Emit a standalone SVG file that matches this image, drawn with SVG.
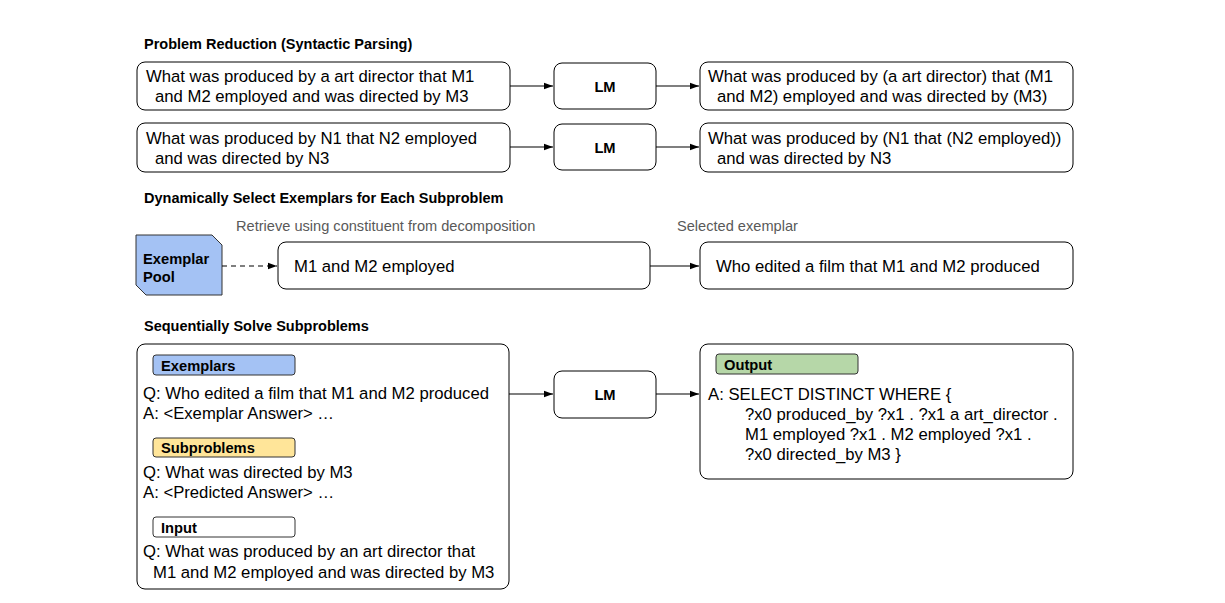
<svg xmlns="http://www.w3.org/2000/svg" width="1225" height="603" viewBox="0 0 1225 603">
<defs>
<marker id="ah" viewBox="0 0 10 10" refX="10" refY="5" markerWidth="9" markerHeight="9" markerUnits="userSpaceOnUse" orient="auto"><path d="M0,1.5 L10,5 L0,8.5 z" fill="#000"/></marker>
<style>
text{font-family:"Liberation Sans",Arial,sans-serif;fill:#000}
.t{font-size:16.7px}
.h{font-size:14.5px;font-weight:bold}
.g{font-size:14.6px;fill:#595959}
.b{fill:#fff;stroke:#000;stroke-width:1}
.tag{stroke:#333;stroke-width:1}
.lm{font-size:14.7px;font-weight:bold}
.c{stroke:#000;stroke-width:1.2;fill:none}
</style>
</defs>
<rect width="1225" height="603" fill="#fff"/>
<text class="h" x="144" y="49">Problem Reduction (Syntactic Parsing)</text>
<text class="h" x="144" y="203">Dynamically Select Exemplars for Each Subproblem</text>
<text class="h" x="144" y="331">Sequentially Solve Subproblems</text>
<text class="g" x="236" y="231">Retrieve using constituent from decomposition</text>
<text class="g" x="677" y="231">Selected exemplar</text>

<g id="in1"><rect class="b" x="137" y="62" width="373" height="48" rx="8"/>
<text class="t" x="146" y="82">What was produced by a art director that M1</text>
<text class="t" x="155" y="102">and M2 employed and was directed by M3</text></g>
<g id="lm1"><rect class="b" x="554" y="63" width="102" height="46" rx="8"/><text class="lm" x="605" y="92" text-anchor="middle">LM</text></g>
<g id="out1"><rect class="b" x="700" y="62" width="373" height="48" rx="8"/>
<text class="t" x="708" y="82">What was produced by (a art director) that (M1</text>
<text class="t" x="717" y="102">and M2) employed and was directed by (M3)</text></g>

<g id="in2"><rect class="b" x="137" y="123" width="373" height="49" rx="8"/>
<text class="t" x="146" y="144">What was produced by N1 that N2 employed</text>
<text class="t" x="155" y="164">and was directed by N3</text></g>
<g id="lm2"><rect class="b" x="554" y="124" width="102" height="46" rx="8"/><text class="lm" x="605" y="153" text-anchor="middle">LM</text></g>
<g id="out2"><rect class="b" x="700" y="123" width="373" height="49" rx="8"/>
<text class="t" x="708" y="144">What was produced by (N1 that (N2 employed))</text>
<text class="t" x="717" y="164">and was directed by N3</text></g>

<g id="pool"><path d="M136,235 L212,235 L222,245 L222,295 L146,295 L136,285 z" fill="#a4c2f4" stroke="#333" stroke-width="1"/>
<text class="lm" x="143" y="264">Exemplar</text><text class="lm" x="143" y="282">Pool</text></g>
<g id="const"><rect class="b" x="278" y="242" width="372" height="47" rx="8"/><text class="t" x="294" y="272">M1 and M2 employed</text></g>
<g id="sel"><rect class="b" x="700" y="242" width="373" height="47" rx="8"/><text class="t" x="716" y="272">Who edited a film that M1 and M2 produced</text></g>

<g id="prompt"><rect class="b" x="137" y="344" width="372" height="245" rx="8"/>
<rect class="tag" x="153" y="355" width="142" height="20" rx="3" fill="#a4c2f4"/><text class="lm" x="161" y="371">Exemplars</text>
<text class="t" x="143" y="399">Q: Who edited a film that M1 and M2 produced</text>
<text class="t" x="143" y="419">A: &lt;Exemplar Answer&gt; …</text>
<rect class="tag" x="153" y="438" width="142" height="19" rx="3" fill="#ffe599"/><text class="lm" x="161" y="453">Subproblems</text>
<text class="t" x="143" y="478">Q: What was directed by M3</text>
<text class="t" x="143" y="498">A: &lt;Predicted Answer&gt; …</text>
<rect class="tag" x="153" y="517" width="142" height="20" rx="3" fill="#fff"/><text class="lm" x="161" y="533">Input</text>
<text class="t" x="143" y="557">Q: What was produced by an art director that</text>
<text class="t" x="153" y="578">M1 and M2 employed and was directed by M3</text></g>
<g id="lm3"><rect class="b" x="554" y="371" width="102" height="47" rx="8"/><text class="lm" x="605" y="400" text-anchor="middle">LM</text></g>
<g id="output"><rect class="b" x="700" y="344" width="373" height="135" rx="8"/>
<rect class="tag" x="716" y="354" width="142" height="20" rx="3" fill="#b6d7a8"/><text class="lm" x="724" y="370">Output</text>
<text class="t" x="708" y="400">A: SELECT DISTINCT WHERE {</text>
<text class="t" x="745" y="420">?x0 produced_by ?x1 . ?x1 a art_director .</text>
<text class="t" x="745" y="440">M1 employed ?x1 . M2 employed ?x1 .</text>
<text class="t" x="745" y="460">?x0 directed_by M3 }</text></g>

<g id="connectors">
<line class="c" x1="510" y1="86" x2="553" y2="86" marker-end="url(#ah)"/>
<line class="c" x1="656" y1="86" x2="699" y2="86" marker-end="url(#ah)"/>
<line class="c" x1="510" y1="147" x2="553" y2="147" marker-end="url(#ah)"/>
<line class="c" x1="656" y1="147" x2="699" y2="147" marker-end="url(#ah)"/>
<line class="c" x1="222" y1="266" x2="277" y2="266" stroke-dasharray="5,4" marker-end="url(#ah)"/>
<line class="c" x1="650" y1="266" x2="699" y2="266" marker-end="url(#ah)"/>
<line class="c" x1="509" y1="394" x2="553" y2="394" marker-end="url(#ah)"/>
<line class="c" x1="656" y1="394" x2="699" y2="394" marker-end="url(#ah)"/>
</g>
</svg>
